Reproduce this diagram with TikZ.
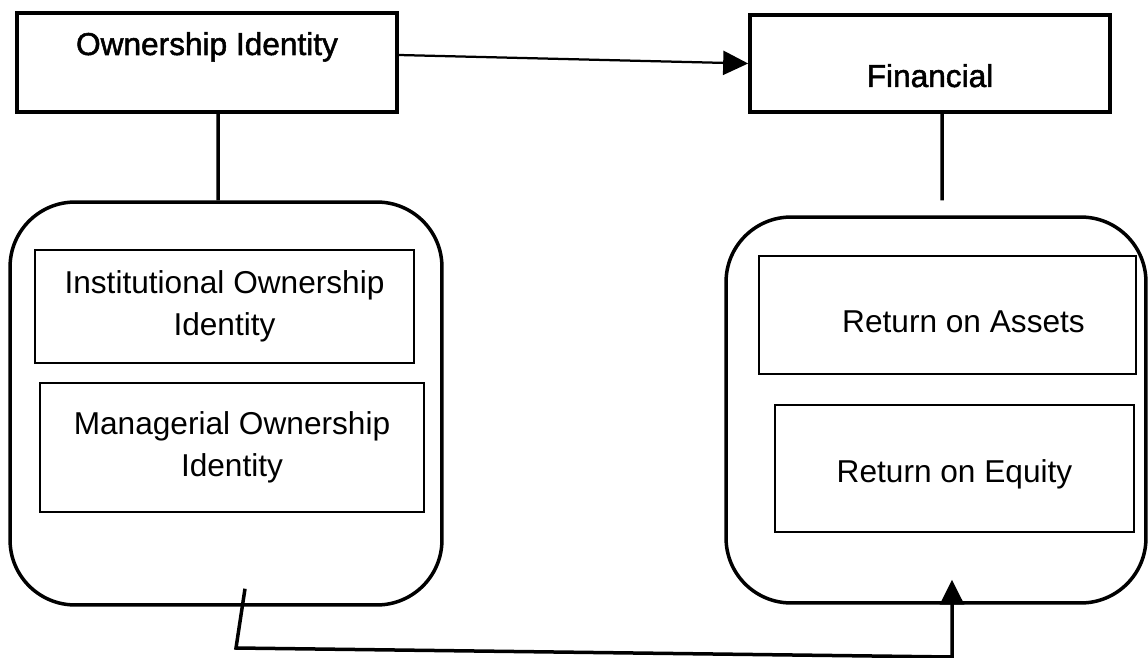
\documentclass[tikz,border=0pt]{standalone}
\usepackage{fontspec}
\setmainfont{Liberation Sans}
\newfontfamily\titlefont[FakeBold=1.6]{Liberation Sans}
\usetikzlibrary{arrows.meta}

\begin{document}
\begin{tikzpicture}[x=0.02cm,y=-0.02cm,
   font=\fontsize{18}{24}\selectfont,
   head/.style={draw,line width=0.075cm,inner sep=0pt,font=\fontsize{18}{24}\selectfont\titlefont},
   group/.style={draw,line width=0.07cm,rounded corners=1.3cm},
   item/.style={draw,line width=0.04cm,inner sep=0pt,align=center},
   link/.style={line width=0.07cm},
   tip/.style={-{Triangle[length=0.5cm,width=0.48cm]}}]
   \useasboundingbox (0,0) rectangle (1148,658);
   % headings
   \node[head,minimum width=7.6cm,text height=0.84cm,text depth=1.14cm] (own) at (207,62.5) {Ownership Identity};
   \node[head,minimum width=7.2cm,text height=1.44cm,text depth=0.5cm] (fin) at (930,63.5) {Financial};
   % groups
   \node[group,minimum width=8.64cm,minimum height=8.06cm] (ownGroup) at (226,403.5) {};
   \node[group,minimum width=8.4cm,minimum height=7.72cm] (finGroup) at (936,410) {};
   % items
   \node[item,minimum width=7.58cm,minimum height=2.26cm] (inst) at (224.5,306.5) {Institutional Ownership\\Identity};
   \node[item,minimum width=7.68cm,minimum height=2.58cm] (mgr) at (232,447.5) {Managerial Ownership\\Identity};
   \node[item,minimum width=7.54cm,text height=1.54cm,text depth=0.82cm] (roa) at (947.5,315) {\hspace*{0.64cm}Return on Assets};
   \node[item,minimum width=7.18cm,text height=1.54cm,text depth=1.0cm] (roe) at (954.5,468.5) {Return on Equity};
   % connectors
   \path[link]
        ([xshift=0.22cm]own.south) edge ([xshift=-0.16cm]ownGroup.north)
        ([xshift=0.24cm]fin.south) edge ([xshift=0.12cm,yshift=0.3cm]finGroup.north);
   \path[link,tip,line width=0.045cm]
        ([yshift=0.15cm]own.east) edge (fin.west);
   \coordinate (bendL) at (236,648);
   \coordinate (bendR) at (952,657);
   \draw[link,tip] ([xshift=0.38cm,yshift=0.36cm]ownGroup.south) -- (bendL) -- (bendR)
        -- ([xshift=0.32cm,yshift=0.5cm]finGroup.south);
\end{tikzpicture}
\end{document}
